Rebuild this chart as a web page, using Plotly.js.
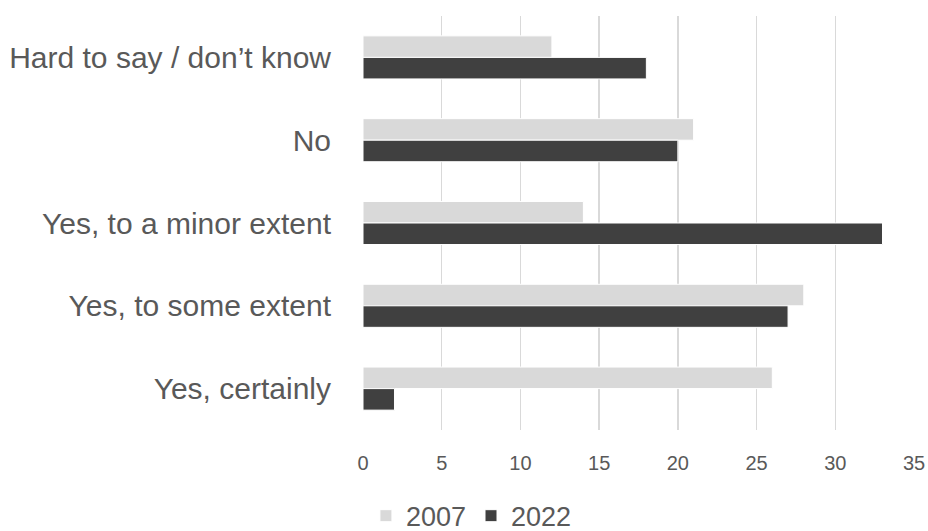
<!DOCTYPE html>
<html>
<head>
<meta charset="utf-8">
<script src="https://cdn.plot.ly/plotly-3.0.1.min.js"></script>
<style>html,body{margin:0;padding:0;background:#fff;}#chart{width:928px;height:531px;}</style>
</head>
<body>
<div id="chart"></div>
<script>
const categories = ["Hard to say / don’t know", "No", "Yes, to a minor extent", "Yes, to some extent", "Yes, certainly"];
const values2007 = [12, 21, 14, 28, 26];
const values2022 = [18, 20, 33, 27, 2];
const seriesNames = ["2007", "2022"];
const xTicks = [0, 5, 10, 15, 20, 25, 30, 35];

const traces = [
  {type: "bar", orientation: "h", name: seriesNames[0], y: categories, x: values2007,
   marker: {color: "#d9d9d9", line: {color: "#ffffff", width: 1}}, hoverinfo: "x+y"},
  {type: "bar", orientation: "h", name: seriesNames[1], y: categories, x: values2022,
   marker: {color: "#404040", line: {color: "#ffffff", width: 1}}, hoverinfo: "x+y"}
];

const layout = {
  width: 928, height: 531,
  margin: {l: 363, r: 14, t: 16, b: 101},
  paper_bgcolor: "#ffffff", plot_bgcolor: "#ffffff",
  barmode: "group", bargap: 0.48, bargroupgap: 0,
  font: {family: "Liberation Sans, Arial, sans-serif", color: "#595959"},
  xaxis: {range: [0, 35], tickvals: xTicks, showgrid: true, gridcolor: "#d9d9d9", gridwidth: 1.5,
          zeroline: false, showline: false, ticks: "outside", ticklen: 15, tickcolor: "rgba(0,0,0,0)",
          tickfont: {size: 20, color: "#595959"}, fixedrange: true},
  yaxis: {type: "category", autorange: "reversed", showgrid: false, zeroline: false, showline: false,
          ticks: "outside", ticklen: 25, tickcolor: "rgba(0,0,0,0)",
          tickfont: {size: 30, color: "#595959"}, fixedrange: true},
  showlegend: true,
  legend: {orientation: "h", xref: "container", yref: "container", x: 0.508, xanchor: "center",
           y: 0.028, yanchor: "middle", font: {size: 27, color: "#595959"}, itemwidth: 30}
};

Plotly.newPlot("chart", traces, layout, {displayModeBar: false, staticPlot: true});
</script>
</body>
</html>
